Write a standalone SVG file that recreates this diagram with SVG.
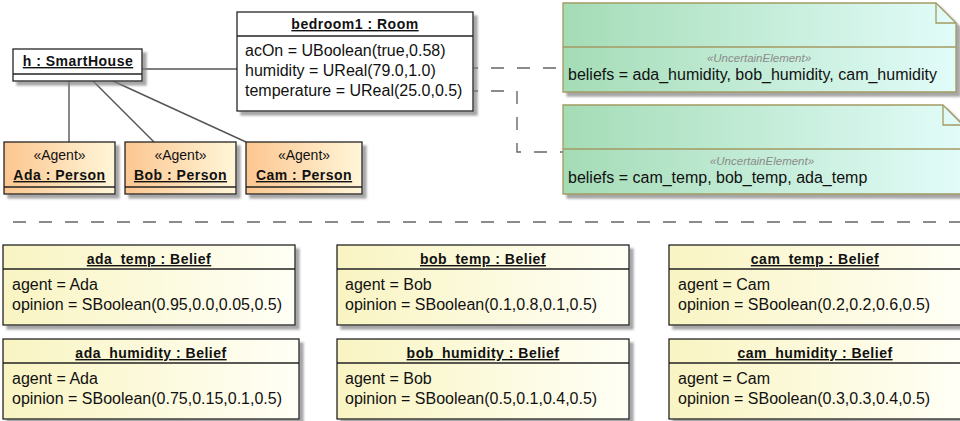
<svg xmlns="http://www.w3.org/2000/svg" width="960" height="421" viewBox="0 0 960 421">
  <defs>
    <linearGradient id="gAgent" x1="0" y1="0" x2="1" y2="0">
      <stop offset="0" stop-color="#fcc690"/>
      <stop offset="1" stop-color="#fff6d8"/>
    </linearGradient>
    <linearGradient id="gBelief" x1="0" y1="0" x2="1" y2="0">
      <stop offset="0" stop-color="#f9f4c2"/>
      <stop offset="1" stop-color="#fffff6"/>
    </linearGradient>
    <linearGradient id="gNote" x1="0" y1="0" x2="1" y2="0">
      <stop offset="0" stop-color="#a4dcb6"/>
      <stop offset="1" stop-color="#e2fcf9"/>
    </linearGradient>
    <filter id="shadow" x="-10%" y="-10%" width="130%" height="140%">
      <feDropShadow dx="4" dy="4" stdDeviation="1.2" flood-color="#808080" flood-opacity="0.7"/>
    </filter>
  </defs>
  <style>
    .box { fill: #ffffff; stroke: #222222; stroke-width: 1.3; filter: url(#shadow); }
    .agent { fill: url(#gAgent); }
    .belief { fill: url(#gBelief); }
    .sep { stroke: #222222; stroke-width: 1.3; }
    .note { fill: url(#gNote); stroke: #a39a62; stroke-width: 1.3; filter: url(#shadow); }
    .fold { fill: none; stroke: #a39a62; stroke-width: 1.3; }
    .nsep { stroke: #a39a62; stroke-width: 1.3; }
    .title { font-family: "Liberation Sans", Arial, sans-serif; font-size: 14px; font-weight: bold; letter-spacing: 0.5px; text-decoration: underline; text-anchor: middle; fill: #111111; }
    .attr { font-family: "Liberation Sans", Arial, sans-serif; font-size: 16px; fill: #111111; }
    .stereo { font-family: "Liberation Sans", Arial, sans-serif; font-size: 14px; text-anchor: middle; fill: #111111; }
    .nstereo { font-family: "Liberation Sans", Arial, sans-serif; font-size: 11.5px; font-style: italic; text-anchor: middle; fill: #8a8a8a; }
    .link { fill: none; stroke: #555555; stroke-width: 1.4; }
    .dash { fill: none; stroke: #666666; stroke-width: 1.4; stroke-dasharray: 13 13; }
  </style>

  <!-- links and note anchors -->
  <g id="connectors">
    <line class="link" x1="142" y1="69" x2="237" y2="69"/>
    <line class="link" x1="69" y1="81" x2="69" y2="142"/>
    <line class="link" x1="93" y1="81" x2="154" y2="142"/>
    <line class="link" x1="113" y1="81" x2="246" y2="142"/>
    <line class="dash" x1="465" y1="68" x2="563" y2="68"/>
    <polyline class="dash" points="465,91 517,91 517,152 563,152"/>
    <line class="dash" x1="13" y1="222" x2="960" y2="222"/>
  </g>

  <g id="smarthouse">
    <rect class="box" x="13" y="49" width="129" height="32"/>
    <line class="sep" x1="13" y1="74" x2="142" y2="74"/>
    <text class="title" x="78" y="66">h : SmartHouse</text>
  </g>

  <g id="bedroom1">
    <rect class="box" x="237" y="12" width="236" height="99"/>
    <line class="sep" x1="237" y1="36" x2="473" y2="36"/>
    <text class="title" x="355" y="29">bedroom1 : Room</text>
    <text class="attr" x="245" y="56">acOn = UBoolean(true,0.58)</text>
    <text class="attr" x="245" y="76">humidity = UReal(79.0,1.0)</text>
    <text class="attr" x="245" y="96">temperature = UReal(25.0,0.5)</text>
  </g>

  <g id="ada">
    <rect class="box agent" x="4" y="142" width="111" height="52"/>
    <line class="sep" x1="4" y1="187" x2="115" y2="187"/>
    <text class="stereo" x="59.5" y="160">«Agent»</text>
    <text class="title" x="59.5" y="180">Ada : Person</text>
  </g>

  <g id="bob">
    <rect class="box agent" x="125" y="142" width="111" height="52"/>
    <line class="sep" x1="125" y1="187" x2="236" y2="187"/>
    <text class="stereo" x="180.5" y="160">«Agent»</text>
    <text class="title" x="180.5" y="180">Bob : Person</text>
  </g>

  <g id="cam">
    <rect class="box agent" x="246" y="142" width="116" height="52"/>
    <line class="sep" x1="246" y1="187" x2="362" y2="187"/>
    <text class="stereo" x="304" y="160">«Agent»</text>
    <text class="title" x="304" y="180">Cam : Person</text>
  </g>

  <g id="note-humidity">
    <path class="note" d="M563,3 H936 L956,23 V92 H563 Z"/>
    <path class="fold" d="M936,3 V23 H956"/>
    <line class="nsep" x1="563" y1="47" x2="956" y2="47"/>
    <text class="nstereo" x="759" y="62">«UncertainElement»</text>
    <text class="attr" x="568" y="80">beliefs = ada_humidity, bob_humidity, cam_humidity</text>
  </g>

  <g id="note-temp">
    <path class="note" d="M563,105 H943 L963,125 V194 H563 Z"/>
    <path class="fold" d="M943,105 V125 H963"/>
    <line class="nsep" x1="563" y1="149" x2="963" y2="149"/>
    <text class="nstereo" x="762" y="165">«UncertainElement»</text>
    <text class="attr" x="568" y="183">beliefs = cam_temp, bob_temp, ada_temp</text>
  </g>

  <g id="ada_temp">
    <rect class="box belief" x="3" y="245" width="292" height="80"/>
    <line class="sep" x1="3" y1="269" x2="295" y2="269"/>
    <text class="title" x="149" y="264">ada_temp : Belief</text>
    <text class="attr" x="12" y="290">agent = Ada</text>
    <text class="attr" x="12" y="310">opinion = SBoolean(0.95,0.0,0.05,0.5)</text>
  </g>

  <g id="ada_humidity">
    <rect class="box belief" x="3" y="339" width="296" height="80"/>
    <line class="sep" x1="3" y1="363" x2="299" y2="363"/>
    <text class="title" x="151" y="358">ada_humidity : Belief</text>
    <text class="attr" x="12" y="384">agent = Ada</text>
    <text class="attr" x="12" y="404">opinion = SBoolean(0.75,0.15,0.1,0.5)</text>
  </g>

  <g id="bob_temp">
    <rect class="box belief" x="337" y="245" width="292" height="80"/>
    <line class="sep" x1="337" y1="269" x2="629" y2="269"/>
    <text class="title" x="483" y="264">bob_temp : Belief</text>
    <text class="attr" x="345" y="290">agent = Bob</text>
    <text class="attr" x="345" y="310">opinion = SBoolean(0.1,0.8,0.1,0.5)</text>
  </g>

  <g id="bob_humidity">
    <rect class="box belief" x="337" y="339" width="292" height="80"/>
    <line class="sep" x1="337" y1="363" x2="629" y2="363"/>
    <text class="title" x="483" y="358">bob_humidity : Belief</text>
    <text class="attr" x="345" y="384">agent = Bob</text>
    <text class="attr" x="345" y="404">opinion = SBoolean(0.5,0.1,0.4,0.5)</text>
  </g>

  <g id="cam_temp">
    <rect class="box belief" x="669" y="245" width="292" height="80"/>
    <line class="sep" x1="669" y1="269" x2="961" y2="269"/>
    <text class="title" x="815" y="264">cam_temp : Belief</text>
    <text class="attr" x="678" y="290">agent = Cam</text>
    <text class="attr" x="678" y="310">opinion = SBoolean(0.2,0.2,0.6,0.5)</text>
  </g>

  <g id="cam_humidity">
    <rect class="box belief" x="669" y="339" width="292" height="80"/>
    <line class="sep" x1="669" y1="363" x2="961" y2="363"/>
    <text class="title" x="815" y="358">cam_humidity : Belief</text>
    <text class="attr" x="678" y="384">agent = Cam</text>
    <text class="attr" x="678" y="404">opinion = SBoolean(0.3,0.3,0.4,0.5)</text>
  </g>
</svg>
